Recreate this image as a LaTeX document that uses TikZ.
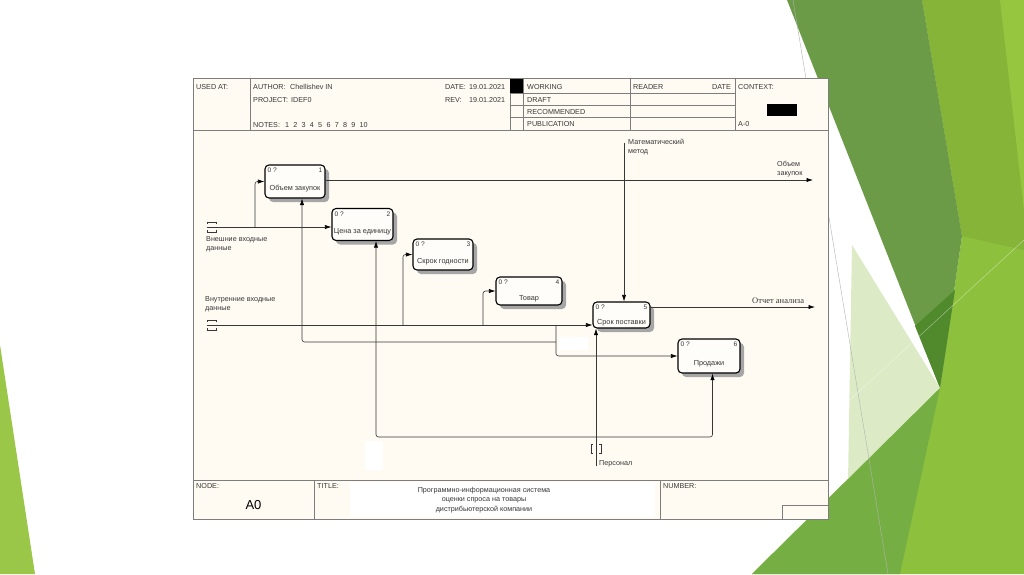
\documentclass[tikz,border=0pt]{standalone}
\usepackage{fontspec}
\setmainfont{Liberation Sans}
\newfontfamily\tnrfont{Liberation Serif}
\usetikzlibrary{arrows.meta,positioning,shadows}
\definecolor{PaperCream}{RGB}{255,251,243}
\definecolor{FrameGray}{RGB}{125,125,125}
\definecolor{InkGray}{RGB}{55,55,55}
\definecolor{LimeGreen}{RGB}{155,199,72}
\definecolor{OliveGreen}{RGB}{108,155,72}
\definecolor{GrassGreen}{RGB}{141,192,60}
\definecolor{YellowGreen}{RGB}{134,180,56}
\definecolor{SpringGreen}{RGB}{150,198,64}
\definecolor{MidGreen}{RGB}{117,175,68}
\definecolor{PaleGreen}{RGB}{220,235,198}
\definecolor{DeepGreen}{RGB}{80,138,44}
\newcommand{\nsp}{\hspace{4.3pt}}

\begin{document}
\begin{tikzpicture}[x=1pt,y=-1pt,
  hdr/.style={font=\fontsize{7.2}{8}\selectfont,text=InkGray,anchor=base west,inner sep=0pt},
  lbl/.style={font=\fontsize{7.2}{9}\selectfont,text=InkGray,align=left,inner sep=0pt},
  tag/.style={font=\fontsize{6.6}{7}\selectfont,text=InkGray,inner sep=0pt},
  act/.style={rectangle,rounded corners=4pt,draw=black,line width=1.1pt,fill=white!50!PaperCream,
    font=\fontsize{7.3}{8}\selectfont,text=InkGray,text height=19pt,text depth=1pt,inner sep=0pt,
    drop shadow={shadow xshift=4pt,shadow yshift=-4pt,fill=black!35,opacity=1},
    label={[tag,anchor=north west,xshift=3pt,yshift=-3.5pt]north west:0 ?},
    label={[tag,anchor=north east,xshift=-3pt,yshift=-3.5pt]north east:#1}},
  arr/.style={-{Latex[length=6.5pt,width=4.2pt,color=black]},draw=InkGray,line width=0.6pt,rounded corners=2.5pt},
  tun/.style={draw=InkGray,line width=0.6pt},
  grid/.style={draw=FrameGray,line width=0.5pt}
]
\useasboundingbox (0,0) rectangle (1024,574);
% slide background
\fill[white] (0,0) rectangle (1024,574);
\fill[LimeGreen] (0,345) -- (35,574) -- (0,574) -- cycle;
\fill[GrassGreen] (922,0) -- (1024,0) -- (1024,574) -- (752,574) -- (940,388) -- (962,236) -- cycle;
\fill[YellowGreen] (922,0) -- (1024,0) -- (1024,250) -- (962,236) -- cycle;
\fill[SpringGreen] (1000,0) -- (1024,0) -- (1024,210) -- cycle;
\fill[OliveGreen] (787,0) -- (922,0) -- (962,236) -- (940,388) -- cycle;
\fill[DeepGreen] (915,326) -- (955,290) -- (940,388) -- cycle;
\fill[PaleGreen] (852,245) -- (940,388) -- (848,482) -- cycle;
\fill[MidGreen] (752,574) -- (940,388) -- (900,574) -- cycle;
\draw[gray!60,line width=0.4pt] (793,0) -- (888,574);
\draw[white,opacity=0.45,line width=0.5pt] (828,420) -- (1024,240);

% IDEF0 sheet
\draw[draw=FrameGray,line width=1pt,fill=PaperCream] (193,78) rectangle (828,519);
\draw[grid] (193,130) -- (828,130);
\draw[grid] (250,78) -- (250,130);
\draw[grid] (510,78) -- (510,130);
\draw[grid] (523,78) -- (523,130);
\draw[grid] (630,78) -- (630,130);
\draw[grid] (735,78) -- (735,130);
\draw[grid] (510,93) -- (735,93);
\draw[grid] (510,105.5) -- (735,105.5);
\draw[grid] (510,117.5) -- (735,117.5);
\fill[black] (510,79) rectangle (523,93);
\fill[black] (767,104) rectangle (797,116);
\draw[grid] (193,480) -- (828,480);
\draw[grid] (314,480) -- (314,519);
\draw[grid] (660,480) -- (660,519);
\draw[grid] (782,519) -- (782,505) -- (828,505);
\fill[white] (350,482) rectangle (655,517);
\fill[white] (365,441) rectangle (383,470);
\fill[white] (559,337) rectangle (588,350);

% header texts
\node[hdr] (usedat) at (196,89.2) {USED AT:};
\node[hdr] (author) at (253,89.2) {AUTHOR:};
\node[hdr] (authorname) at (290,89.2) {Chellishev IN};
\node[hdr] (date) at (445,89.2) {DATE:};
\node[hdr] (dateval) at (469,89.2) {19.01.2021};
\node[hdr] (project) at (253,102.2) {PROJECT:};
\node[hdr] (projectname) at (291,102.2) {IDEF0};
\node[hdr] (rev) at (445,102.2) {REV:};
\node[hdr] (revval) at (469,102.2) {19.01.2021};
\node[hdr] (notes) at (253,127.7) {NOTES:\hspace{5pt}1\nsp 2\nsp 3\nsp 4\nsp 5\nsp 6\nsp 7\nsp 8\nsp 9\nsp 10};
\node[hdr] (working) at (527,89.2) {WORKING};
\node[hdr] (draft) at (527,102.2) {DRAFT};
\node[hdr] (recommended) at (527,114.2) {RECOMMENDED};
\node[hdr] (publication) at (527,126.7) {PUBLICATION};
\node[hdr] (reader) at (633,89.2) {READER};
\node[hdr,anchor=base east] (readerdate) at (731,89.2) {DATE};
\node[hdr] (context) at (738,89.2) {CONTEXT:};
\node[hdr] (contextid) at (738,126.7) {A-0};

% footer texts
\node[hdr] (nodelbl) at (196,488.7) {NODE:};
\node[font=\fontsize{13}{14}\selectfont,text=black,inner sep=0pt] (nodeid) at (253.5,505) {A0};
\node[hdr] (titlelbl) at (317,488.7) {TITLE:};
\node[font=\fontsize{7.2}{9.8}\selectfont,text=InkGray,align=center,inner sep=0pt] (title) at (484,500)
  {Программно-информационная система\\оценки спроса на товары\\дистрибьютерской компании};
\node[hdr] (numberlbl) at (663,488.7) {NUMBER:};

% activity boxes
\node[act=1,minimum width=60pt,minimum height=33pt] (b1) at (295,181.5) {Объем закупок};
\node[act=2,minimum width=61pt,minimum height=32pt] (b2) at (362.5,224.5) {Цена за единицу};
\node[act=3,minimum width=60pt,minimum height=31pt] (b3) at (443,254.5) {Скрок годности};
\node[act=4,minimum width=66pt,minimum height=28pt] (b4) at (529,291) {Товар};
\node[act=5,minimum width=57pt,minimum height=26pt] (b5) at (621.5,315) {Срок поставки};
\node[act=6,minimum width=62pt,minimum height=34pt] (b6) at (709,356) {Продажи};

% arrow labels
\node[lbl,anchor=north west] (extlbl) at (206,236) {Внешние входные\\данные};
\node[lbl,anchor=north west] (intlbl) at (205,296) {Внутренние входные\\данные};
\node[lbl,anchor=north west] (ctllbl) at (628,139) {Математический\\метод};
\node[lbl,anchor=north west] (out1lbl) at (777,161) {Объем\\закупок};
\node[anchor=base west,font=\tnrfont\fontsize{8.5}{9}\selectfont,text=InkGray,inner sep=0pt] (out5lbl) at (752,303) {Отчет анализа};
\node[lbl,anchor=base west] (mechlbl) at (599,465) {Персонал};

% connector ends
\coordinate (extin) at (207,227);
\coordinate (extsplit) at (255,227);
\coordinate (intin) at (207,325);
\coordinate (intsplit3) at (403,325);
\coordinate (intsplit4) at (483,325);
\coordinate (intsplit6) at (556,325);
\coordinate (backjoin) at (556,342);
\coordinate (ctlin) at (624,143);
\coordinate (mechin) at (596,466);
\coordinate (mechjoin) at (596,437);
\coordinate (out1end) at (813,180);
\coordinate (out5end) at (815,307);

% tunnel brackets
\draw[tun] (207,224) -- (207,222) -- (216,222) -- (216,224);
\draw[tun] (207,230) -- (207,232) -- (216,232) -- (216,230);
\draw[tun] (207,322) -- (207,320) -- (216,320) -- (216,322);
\draw[tun] (207,328) -- (207,330) -- (216,330) -- (216,328);
\draw[tun] (593,444) -- (591,444) -- (591,453) -- (593,453);
\draw[tun] (599,444) -- (601,444) -- (601,453) -- (599,453);

% connectors
\draw[arr] (extin) -- (extin -| b2.west);
\draw[arr] (extsplit) |- (b1.west);
\draw[arr] (intin) -- (intin -| b5.west);
\draw[arr] (intsplit3) |- (b3.west);
\draw[arr] (intsplit4) |- (b4.west);
\draw[arr] (intsplit6) |- (b6.west);
\draw[arr] (backjoin) -| ([xshift=7pt]b1.south);
\draw[arr] (b1.east |- out1end) -- (out1end);
\draw[arr] (b5.east |- out5end) -- (out5end);
\draw[arr] (ctlin) -- (ctlin |- b5.north);
\draw[arr] (mechin) -- (mechin |- b5.south);
\draw[arr] (mechjoin) -| ([xshift=13.5pt]b2.south);
\draw[arr] (mechjoin) -| ([xshift=3.5pt]b6.south);
\end{tikzpicture}
\end{document}
